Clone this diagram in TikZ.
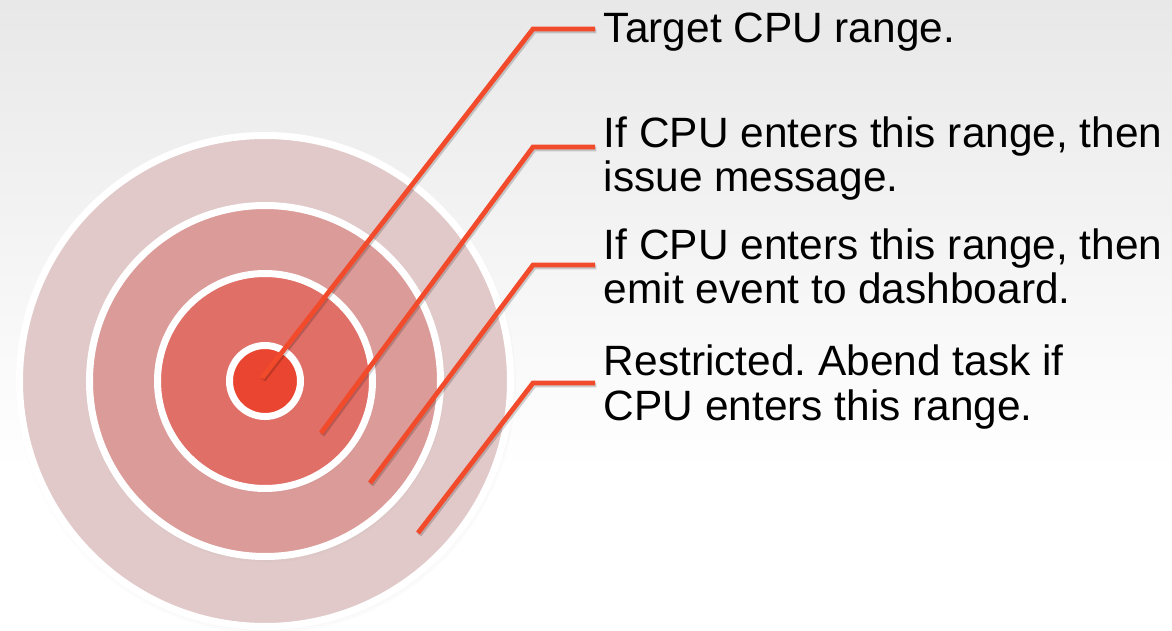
\documentclass[tikz,border=0pt]{standalone}
\usepackage{fontspec}
\setmainfont{Liberation Sans}
\usetikzlibrary{shadows}

\definecolor{ringA}{HTML}{E1C9C9}
\definecolor{ringB}{HTML}{DB9B98}
\definecolor{ringC}{HTML}{E06F67}
\definecolor{ringD}{HTML}{EA4530}
\definecolor{leadred}{HTML}{F24B2C}

\begin{document}
\begin{tikzpicture}[x=0.75pt, y=-0.75pt]

\tikzset{ring/.style = {circle, draw=white, line width=5.25pt, inner sep=0pt,
		circular drop shadow={shadow scale=1.02, shadow xshift=0.6pt, shadow yshift=-2pt, opacity=0.35}}}
\tikzset{leader/.style = {draw=leadred, line width=3.6pt,
		preaction={draw=black, opacity=0.18, line width=3.6pt, transform canvas={shift={(1pt,-1.5pt)}}}}}
\tikzset{label/.style = {anchor=base west, align=left, inner xsep=6.5pt, inner ysep=0pt,
		font=\fontsize{31.8}{33.6}\selectfont\frenchspacing}}

\clip (0,0) rectangle (1172,631);
\shade[top color=black!9, bottom color=white] (0,0) rectangle (1172,470);
\fill[white] (0,470) rectangle (1172,631);

% target rings
\foreach \name/\d/\col in {A/368.25/ringA, B/263.25/ringB, C/161.25/ringC, D/53.25/ringD}
{
	\node[ring, fill=\col, minimum size=\d pt] (ring\name) at (265, 381) {};
}

% labels (anchored at the baseline of the last line)
\node[label] (lbl1) at (595, 43) {Target CPU range.};
\node[label] (lbl2) at (595, 192) {If CPU enters this range, then\\issue message.};
\node[label] (lbl3) at (595, 304) {If CPU enters this range, then\\emit event to dashboard.};
\node[label] (lbl4) at (595, 420) {Restricted. Abend task if\\CPU enters this range.};

% leader lines
\coordinate (tip1) at (262, 378);
\coordinate (tip2) at (321, 433);
\coordinate (tip3) at (370, 483);
\coordinate (tip4) at (418, 533);

\foreach \i/\y in {1/29, 2/147, 3/265, 4/383}
{
	\coordinate (bend\i) at (533, \y);
	\draw[leader] (tip\i) -- (bend\i) -- (bend\i -| lbl\i.west);
}

\end{tikzpicture}
\end{document}
